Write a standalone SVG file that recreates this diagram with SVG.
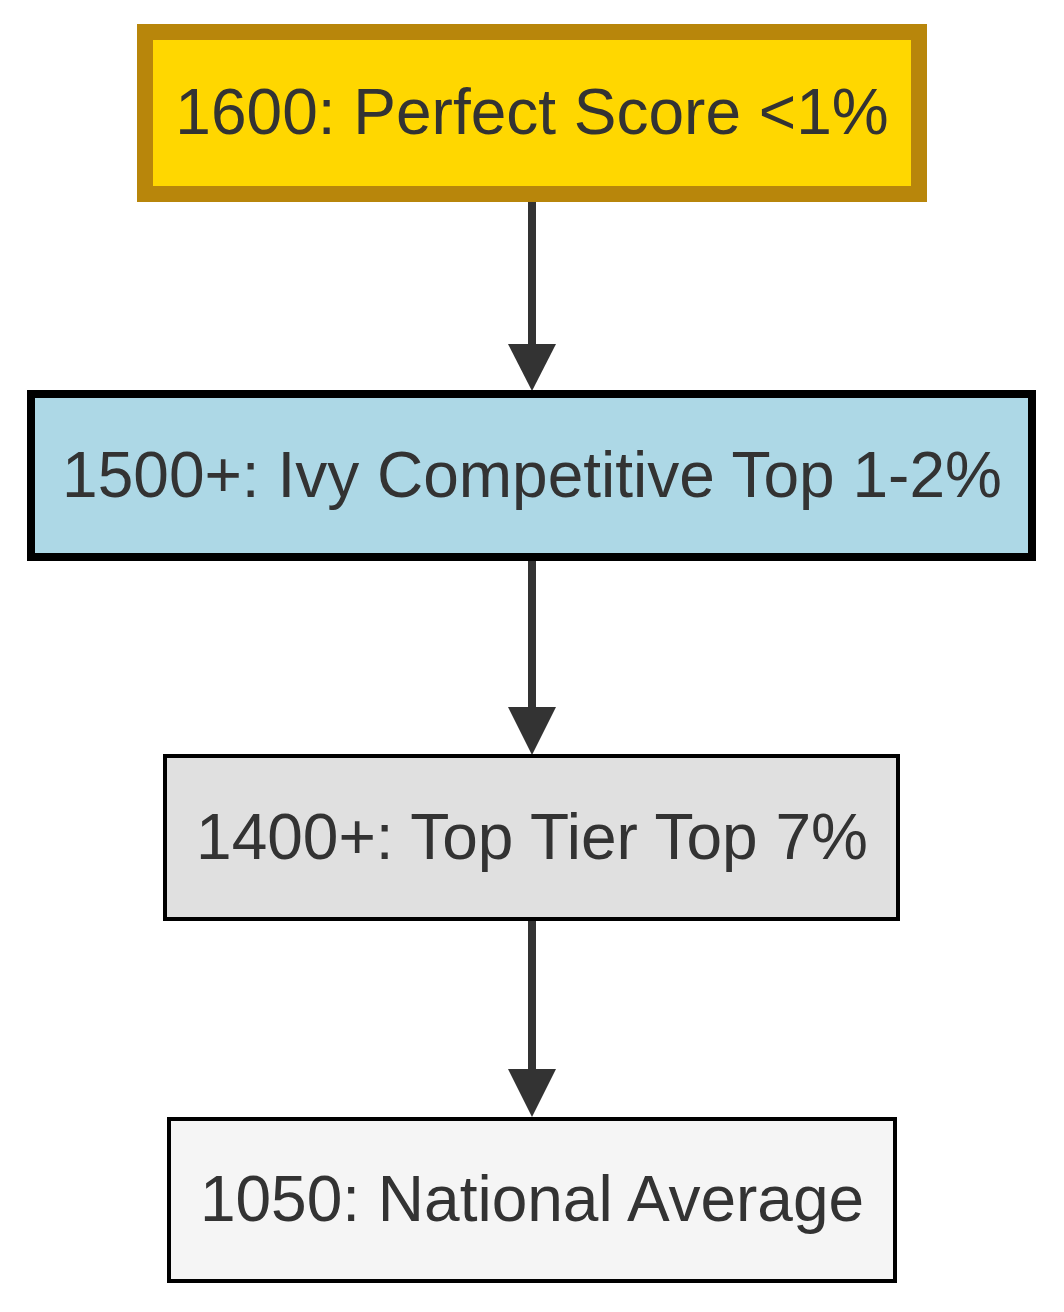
<svg xmlns="http://www.w3.org/2000/svg" width="1064" height="1312" viewBox="0 0 1064 1312">
<style>
.lbl{font-family:"Liberation Sans",Arial,sans-serif;font-size:64px;fill:#333333;text-anchor:middle}
.edge{stroke:#333333;stroke-width:8;fill:none}
.head{fill:#333333;stroke:none}
</style>
<rect width="1064" height="1312" fill="#ffffff"/>
<g id="connectors">
<line class="edge" x1="532" y1="202" x2="532" y2="350"/>
<polygon class="head" points="508,344 556,344 532,391"/>
<line class="edge" x1="532" y1="561" x2="532" y2="712"/>
<polygon class="head" points="508,707 556,707 532,755"/>
<line class="edge" x1="532" y1="921" x2="532" y2="1074"/>
<polygon class="head" points="508,1069 556,1069 532,1117"/>
</g>
<g id="n1600">
<rect x="145" y="32" width="774" height="162" fill="#FFD700" stroke="#B8860B" stroke-width="16"/>
<text class="lbl" x="532" y="134">1600: Perfect Score &lt;1%</text>
</g>
<g id="n1500">
<rect x="31" y="394" width="1001" height="163" fill="#ADD8E6" stroke="#000000" stroke-width="8"/>
<text class="lbl" x="532" y="497">1500+: Ivy Competitive Top 1-2%</text>
</g>
<g id="n1400">
<rect x="165" y="756" width="733" height="163" fill="#E0E0E0" stroke="#000000" stroke-width="4"/>
<text class="lbl" x="532" y="859">1400+: Top Tier Top 7%</text>
</g>
<g id="n1050">
<rect x="169" y="1119" width="726" height="162" fill="#F5F5F5" stroke="#000000" stroke-width="4"/>
<text class="lbl" x="532" y="1221">1050: National Average</text>
</g>
</svg>
